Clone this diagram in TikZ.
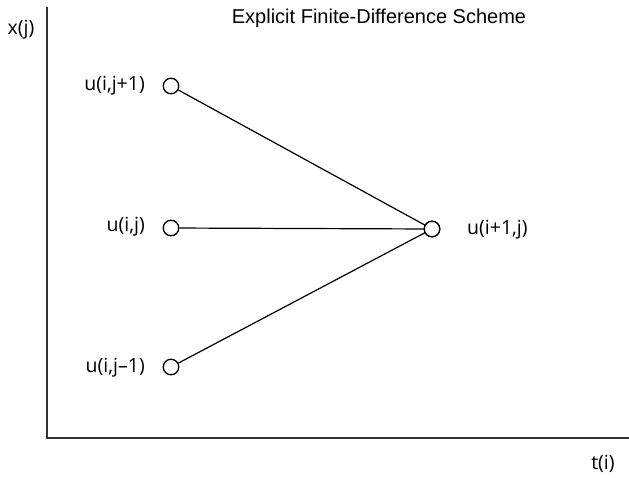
\documentclass[tikz,border=0pt]{standalone}
\usepackage{fontspec}
\setmainfont{Liberation Sans}
\newfontfamily\labfont{Open Sans}
\begin{document}
\begin{tikzpicture}[x=1pt,y=-1pt,
  pt/.style={circle,draw,line width=1.3pt,minimum size=15.5pt,inner sep=0pt,fill=white},
  lab/.style={font=\labfont\fontsize{19.5}{23}\selectfont,inner sep=0pt},
  axis/.style={line width=2pt,draw=black!80},
  conn/.style={line width=1.2pt}]
\useasboundingbox (0,0) rectangle (629,477);
\coordinate (top) at (47,7);
\coordinate (origin) at (47,438);
\coordinate (xend) at (629,438);
\draw[axis] (top) -- (origin) -- (xend);
\node[pt] (a) at (171,86) {};
\node[pt] (b) at (171,228) {};
\node[pt] (c) at (171,367) {};
\node[pt] (d) at (432,229) {};
\draw[conn] (a) -- (d.center);
\draw[conn] (b) -- (d);
\draw[conn] (c) -- (d.center);
\node[pt] at (d) {};
\node[lab,anchor=east] (la) at (145,86) {u(i,j+1)};
\node[lab,anchor=east] (lb) at (145,227) {u(i,j)};
\node[lab,anchor=east] (lc) at (145,368) {u(i,j–1)};
\node[lab,anchor=west] (ld) at (467,230) {u(i+1,j)};
\node[lab] (xl) at (21,30) {x(j)};
\node[lab] (tl) at (603,464) {t(i)};
\node[font=\fontsize{20}{24}\selectfont,inner sep=0pt] (title) at (379,18) {Explicit Finite-Difference Scheme};
\end{tikzpicture}
\end{document}
